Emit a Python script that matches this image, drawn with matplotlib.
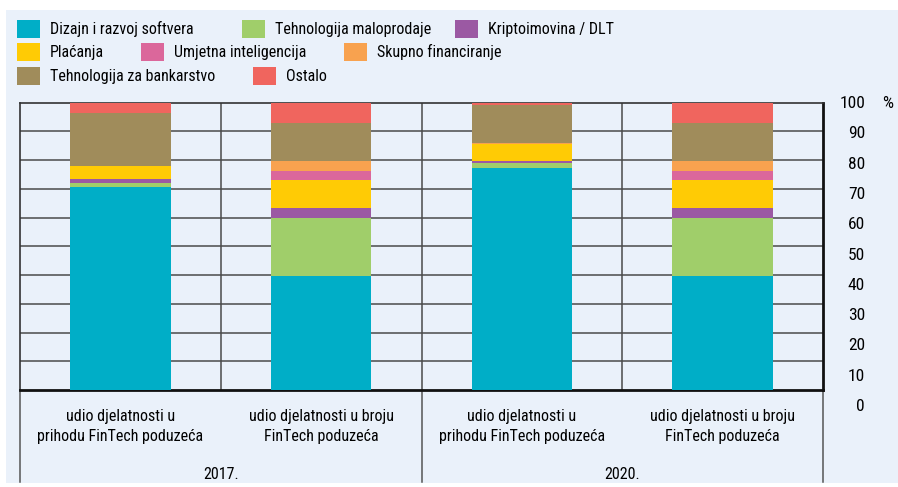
import numpy as np
import matplotlib.pyplot as plt
from matplotlib.patches import Rectangle

plt.rcParams['font.family'] = ['Roboto Condensed', 'DejaVu Sans']

cats = ["udio djelatnosti u\nprihodu FinTech poduzeća",
        "udio djelatnosti u broju\nFinTech poduzeća",
        "udio djelatnosti u\nprihodu FinTech poduzeća",
        "udio djelatnosti u broju\nFinTech poduzeća"]
years = ["2017.", "2020."]

series = ["Dizajn i razvoj softvera", "Tehnologija maloprodaje", "Kriptoimovina / DLT",
          "Plaćanja", "Umjetna inteligencija", "Skupno financiranje",
          "Tehnologija za bankarstvo", "Ostalo"]
softver = [70.5, 39.7, 77.1, 39.7]
maloprodaja = [1.5, 20.0, 1.8, 20.0]
kripto = [1.5, 3.5, 0.7, 3.5]
placanja = [4.4, 9.8, 6.1, 9.8]
ai = [0.0, 3.2, 0.0, 3.2]
skupno = [0.0, 3.4, 0.3, 3.4]
bankarstvo = [18.5, 13.3, 13.1, 13.3]
ostalo = [3.6, 7.1, 0.9, 7.1]

colors = ["#00AEC7", "#A0CE6A", "#9B59A3", "#FFCB05", "#DB679B", "#F8A24F", "#A08C5B", "#F0655E"]

W, H = 898, 487
fig = plt.figure(figsize=(W / 100, H / 100), dpi=100)
fig.patch.set_facecolor("white")
fig.patches.append(Rectangle((6 / W, 1 - 483 / H), 1 - 6 / W, (483 - 10) / H,
                             transform=fig.transFigure, facecolor="#EAF1FA",
                             edgecolor="none", zorder=-5))

ax = fig.add_axes([20 / W, 1 - 390 / H, (823 - 20) / W, (390 - 102.5) / H])
ax.set_facecolor("#EAF1FA")

x = np.arange(len(cats))
data = [softver, maloprodaja, kripto, placanja, ai, skupno, bankarstvo, ostalo]
bottom = np.zeros(len(cats))
bars = []
for name, vals, c in zip(series, data, colors):
    b = ax.bar(x, vals, 0.5, bottom=bottom, color=c, label=name, zorder=3)
    bars.append(b)
    bottom += np.array(vals)

ax.set_xlim(-0.5, 3.5)
ax.set_ylim(0, 100)
for v in range(10, 100, 10):
    ax.axhline(v, color="#4a4a4a", lw=1.1, zorder=1)
for v in [0.5, 1.5, 2.5]:
    ax.axvline(v, color="#4a4a4a", lw=1.1, zorder=1)
# lines continuing below the plot area
for v in [-0.5, 1.5, 3.5]:
    ax.axvline(v, ymin=-0.32, ymax=0, color="#555555", lw=1.1, clip_on=False)

for s in ["top", "left"]:
    ax.spines[s].set_linewidth(1.2)
    ax.spines[s].set_color("#333333")
for s in ["bottom", "right"]:
    ax.spines[s].set_linewidth(2)
    ax.spines[s].set_color("#111111")

ax.set_yticks([])
ax.set_xticks(x)
ax.set_xticklabels(cats, fontsize=11.5, linespacing=1.35)
ax.tick_params(axis="x", length=0, pad=14)

for i, yr in enumerate(years):
    ax.text(0.5 + 2 * i, -0.295, yr, transform=ax.get_xaxis_transform(),
            ha="center", va="center", fontsize=11.5)

# value labels sit on their own scale at the right
lab = fig.add_axes([823 / W, 1 - 405 / H, 0.01, (405 - 102) / H])
lab.set_ylim(0, 100)
lab.set_xticks([])
lab.set_yticks(range(0, 101, 10))
lab.yaxis.tick_right()
lab.tick_params(axis="y", length=0, pad=23.8, labelsize=12.5)
for t in lab.get_yticklabels():
    t.set_horizontalalignment("right")
for s in lab.spines.values():
    s.set_visible(False)
lab.patch.set_visible(False)
lab.text(888 / W, 1 - 103 / H, "%", transform=fig.transFigure, ha="center",
         va="center", fontsize=12.5)

# legend, one entry per position
leg_pos = [(17, 29), (242, 29), (455, 29),
           (17, 52), (141, 52), (344, 52),
           (17, 76), (253, 76)]
for b, name, (px, py) in zip(bars, series, leg_pos):
    fig.legend([b], [name], loc="center left", bbox_to_anchor=(px / W, 1 - py / H),
               frameon=False, fontsize=11.5, borderpad=0, borderaxespad=0,
               handlelength=1.45, handleheight=1.45, handletextpad=0.6)

fig.savefig("out.png", dpi=100, facecolor=fig.get_facecolor())
